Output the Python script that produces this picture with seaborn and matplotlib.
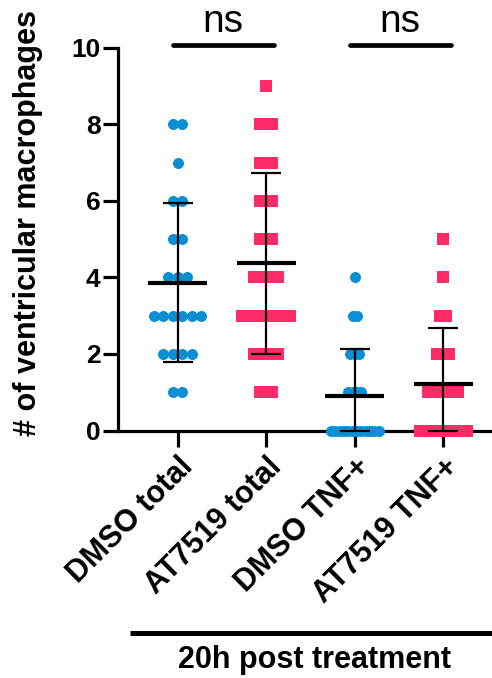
import warnings
warnings.filterwarnings("ignore")
import numpy as np
import pandas as pd
import matplotlib
matplotlib.use("Agg")
import matplotlib.pyplot as plt
import seaborn as sns
from matplotlib.lines import Line2D

# ---------------- data ----------------
categories = ["DMSO total", "AT7519 total", "DMSO TNF+", "AT7519 TNF+"]
dmso_total = [8, 8, 7, 6, 6, 5, 5, 4, 4, 4, 3, 3, 3, 3, 3, 3, 2, 2, 2, 2, 1, 1]
at7519_total = [9, 8, 8, 7, 7, 6, 6, 5, 5, 4, 4, 4, 3, 3, 3, 3, 3, 2, 2, 2, 1, 1]
dmso_tnf = [4, 3, 3, 2, 2, 2, 1, 1, 1, 1, 0, 0, 0, 0, 0, 0, 0, 0, 0, 0, 0, 0]
at7519_tnf = [5, 4, 3, 3, 2, 2, 2, 1, 1, 1, 1, 1, 1, 0, 0, 0, 0, 0, 0, 0, 0, 0]
groups = [dmso_total, at7519_total, dmso_tnf, at7519_tnf]
markers = ["o", "s", "o", "s"]
blue = "#0A8FD3"
pink = "#FF2B66"
colors = [blue, pink, blue, pink]
yticks = [0, 2, 4, 6, 8, 10]
comparisons = [(0, 1, "ns"), (2, 3, "ns")]
xlabel_bottom = "20h post treatment"
ylabel = "# of ventricular macrophages"

# ---------------- style ----------------
sns.set_theme(style="white")
plt.rcParams['font.family'] = ['Liberation Sans', 'DejaVu Sans']
plt.rcParams['text.color'] = 'black'
plt.rcParams['axes.labelcolor'] = 'black'
plt.rcParams['xtick.color'] = 'black'
plt.rcParams['ytick.color'] = 'black'

W, H = 492, 678
DPI = 100
fig = plt.figure(figsize=(W / DPI, H / DPI), dpi=DPI)
ax_left, ax_right, ax_top, ax_bot = 118.3, 490, 47.7, 430.5
ax = fig.add_axes([ax_left / W, 1 - ax_bot / H, (ax_right - ax_left) / W, (ax_bot - ax_top) / H])

px_per_unit = 88.53
xlim = ((ax_left - 177.7) / px_per_unit, (ax_right - 177.7) / px_per_unit)


def spread(values, marker_px, max_span_px=47.5):
    """GraphPad-like symmetric scatter offsets (data units) for one column."""
    vals = np.asarray(values)
    uniq, counts = np.unique(vals, return_counts=True)
    kmax = counts.max()
    step = marker_px if kmax < 2 else min(marker_px, max_span_px / (kmax - 1))
    offs = np.zeros(len(vals))
    for u, k in zip(uniq, counts):
        idx = np.where(vals == u)[0]
        offs[idx] = (np.arange(k) - (k - 1) / 2) * step
    return offs / px_per_unit


rows = []
for i, (cat, vals, mk) in enumerate(zip(categories, groups, markers)):
    mpx = 11 if mk == "o" else 12
    offs = spread(vals, mpx)
    for v, o in zip(vals, offs):
        rows.append({"group": cat, "pos": i + o, "value": v, "marker": mk})
df = pd.DataFrame(rows)

for i, cat in enumerate(categories):
    sub = df[df.group == cat]
    mk = markers[i]
    size_pt = (11 if mk == "o" else 12) * 72 / DPI
    sns.scatterplot(data=sub, x="pos", y="value", marker=mk, s=size_pt ** 2,
                    color=colors[i], linewidth=0, ax=ax, clip_on=False,
                    zorder=3, legend=False)

# mean +/- SD
for i, vals in enumerate(groups):
    m = np.mean(vals)
    sd = np.std(vals, ddof=1)
    lo = max(m - sd, 0)
    hi = m + sd
    ax.errorbar(i, m, yerr=[[m - lo], [hi - m]], fmt="none", ecolor="black",
                elinewidth=1.6, capsize=10.8, capthick=1.6, zorder=4, clip_on=False)
    ax.hlines(m, i - 0.333, i + 0.333, colors="black", linewidth=3.0,
              zorder=5, capstyle="butt")

# significance bars
for a, b, txt in comparisons:
    ax.plot([a - 0.055, b + 0.085], [10.07, 10.07], color="black", lw=3.4,
            solid_capstyle="round", clip_on=False, zorder=5)
    ax.text((a + b) / 2 + 0.012, 10.42, txt, ha="center", va="baseline",
            fontsize=28, fontweight="normal", color="black", clip_on=False)

ax.set_xlim(*xlim)
ax.set_ylim(0, 10)
ax.set_yticks(yticks)
ax.set_yticklabels([str(t) for t in yticks], fontsize=19, fontweight="bold",
                   color="black")
ax.set_xticks(range(len(categories)))
ax.set_xticklabels(categories, fontsize=22, fontweight="bold", rotation=45,
                   ha="right", va="top", rotation_mode="anchor", color="black")
ax.set_xlabel("")
ax.set_ylabel("")

for s in ["top", "right"]:
    ax.spines[s].set_visible(False)
for s in ["left", "bottom"]:
    ax.spines[s].set_linewidth(2.3)
    ax.spines[s].set_color("black")
    ax.spines[s].set_zorder(2.5)

ax.tick_params(axis="y", direction="out", length=10.8, width=2.3, pad=2,
               colors="black", left=True)
ax.tick_params(axis="x", direction="out", length=11.5, width=2.3, pad=4,
               colors="black", bottom=True)
ax.grid(False)
ax.set_facecolor("none")

# y label
fig.text(28 / W, 1 - 223.5 / H, ylabel, rotation=90, ha="center", va="center",
         fontsize=22, fontweight="bold", color="black")

# bottom bracket line and label
fig.add_artist(Line2D([130 / W, 1.0], [1 - 632.7 / H, 1 - 632.7 / H],
                      color="black", lw=3.6, solid_capstyle="butt"))
fig.text(315 / W, 1 - 668 / H, xlabel_bottom, ha="center", va="baseline",
         fontsize=22, fontweight="bold", color="black")

fig.savefig("out.png", dpi=DPI)
